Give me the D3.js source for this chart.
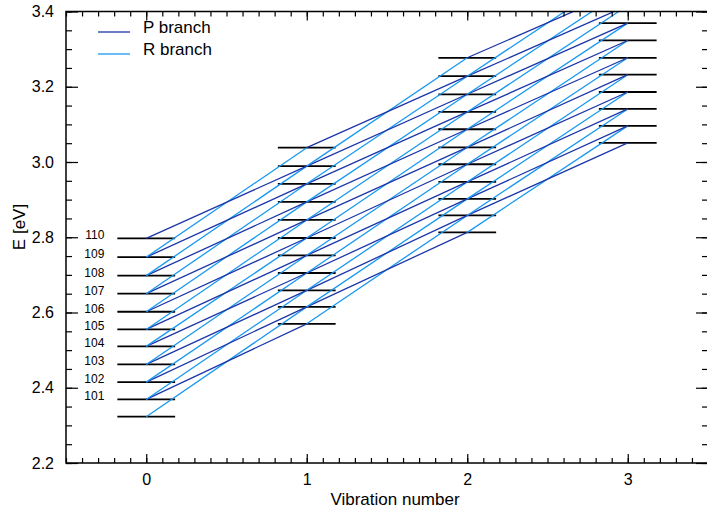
<!DOCTYPE html>
<html>
<head>
<meta charset="utf-8">
<script src="https://cdn.jsdelivr.net/npm/d3@7"></script>
<style>
  body { margin: 0; background: #fff; }
  text { font-family: "Liberation Sans", Arial, sans-serif; fill: #000; }
</style>
</head>
<body>
<svg id="chart" width="707" height="511"></svg>
<script>
// Rotational quantum numbers of the levels drawn in every vibrational state
const rotJ = [100, 101, 102, 103, 104, 105, 106, 107, 108, 109, 110];
// Level energies (eV) for J = 100..110, one array per vibration number
const levelsV0 = [2.323, 2.369, 2.415, 2.462, 2.510, 2.555, 2.602, 2.650, 2.698, 2.747, 2.797];
const levelsV1 = [2.570, 2.615, 2.659, 2.705, 2.752, 2.798, 2.846, 2.894, 2.942, 2.989, 3.038];
const levelsV2 = [2.813, 2.858, 2.902, 2.947, 2.994, 3.039, 3.087, 3.133, 3.180, 3.228, 3.277];
const levelsV3 = [3.051, 3.096, 3.141, 3.186, 3.232, 3.277, 3.323, 3.369, 3.416, 3.463, 3.511];
const vibrations = [0, 1, 2, 3];
const levelsByV = [levelsV0, levelsV1, levelsV2, levelsV3];
// J values written beside the v = 0 ladder
const labeledJ = [101, 102, 103, 104, 105, 106, 107, 108, 109, 110];
const xTickValues = [0, 1, 2, 3];
const yTickValues = [2.2, 2.4, 2.6, 2.8, 3.0, 3.2, 3.4];
const branchNames = ["P branch", "R branch"];
const branchShift = [-1, 1];   // ΔJ of the upper level
const branchColors = ["#1c36a8", "#1898f0"];

const svg = d3.select("#chart");
const plotLeft = 66, plotRight = 708, plotTop = 11.5, plotBottom = 463;

const x = d3.scaleLinear().domain([-0.5, 3.5]).range([plotLeft, plotRight]);
const y = d3.scaleLinear().domain([2.2, 3.4]).range([plotBottom, plotTop]);
const halfWidth = 0.18;

svg.append("defs").append("clipPath").attr("id", "plotClip")
  .append("rect").attr("x", plotLeft).attr("y", plotTop)
  .attr("width", plotRight - plotLeft).attr("height", plotBottom - plotTop);

const plot = svg.append("g").attr("clip-path", "url(#plotClip)");

// Energy levels as short horizontal bars
const levelData = [];
vibrations.forEach((v, vi) => {
  levelsByV[vi].forEach((e, i) => levelData.push({ v, J: rotJ[i], e }));
});
plot.append("g").selectAll("line").data(levelData).join("line")
  .attr("x1", d => x(d.v - halfWidth)).attr("x2", d => x(d.v + halfWidth))
  .attr("y1", d => y(d.e)).attr("y2", d => y(d.e))
  .attr("stroke", "#000").attr("stroke-width", 1.8);

// Transitions v -> v+1 with J -> J-1 (P) and J -> J+1 (R)
const transitions = [];
for (let vi = 0; vi < vibrations.length - 1; vi++) {
  rotJ.forEach((J, i) => {
    branchShift.forEach((s, b) => {
      const k = i + s;
      if (k < 0 || k >= rotJ.length) return;
      transitions.push({
        b,
        x1: vibrations[vi], e1: levelsByV[vi][i],
        x2: vibrations[vi + 1], e2: levelsByV[vi + 1][k]
      });
    });
  });
}
plot.append("g").selectAll("line").data(transitions).join("line")
  .attr("x1", d => x(d.x1)).attr("y1", d => y(d.e1))
  .attr("x2", d => x(d.x2)).attr("y2", d => y(d.e2))
  .attr("stroke", d => branchColors[d.b]).attr("stroke-width", 1.3);

// J labels next to the v = 0 levels
svg.append("g").selectAll("text").data(labeledJ).join("text")
  .attr("x", x(0 - halfWidth) - 13)
  .attr("y", J => y(levelsV0[rotJ.indexOf(J)]) + 1)
  .attr("text-anchor", "end")
  .attr("font-size", 12)
  .text(J => J);

// Axes: ticks pointing inward on all four sides
const yMinor = d3.range(2.2, 3.4001, 0.05);
const xMinor = d3.range(-0.5, 3.5001, 0.1);

function styleAxis(g) {
  g.select(".domain").remove();
  g.selectAll("line").attr("stroke", "#000").attr("stroke-width", 1.2);
  g.selectAll("text").attr("font-size", 16).attr("font-family", "Liberation Sans, Arial, sans-serif");
}

svg.append("g").attr("transform", `translate(${plotLeft},0)`)
  .call(d3.axisLeft(y).tickValues(yMinor).tickSizeInner(-6).tickSizeOuter(0).tickFormat(""))
  .call(styleAxis);
svg.append("g").attr("transform", `translate(${plotLeft},0)`)
  .call(d3.axisLeft(y).tickValues(yTickValues).tickSizeInner(-12).tickSizeOuter(0)
    .tickPadding(12).tickFormat(d3.format(".1f")))
  .call(styleAxis);

svg.append("g").attr("transform", `translate(${plotRight},0)`)
  .call(d3.axisRight(y).tickValues(yMinor).tickSizeInner(-6).tickSizeOuter(0).tickFormat(""))
  .call(styleAxis);
svg.append("g").attr("transform", `translate(${plotRight},0)`)
  .call(d3.axisRight(y).tickValues(yTickValues).tickSizeInner(-12).tickSizeOuter(0).tickFormat(""))
  .call(styleAxis);

svg.append("g").attr("transform", `translate(0,${plotBottom})`)
  .call(d3.axisBottom(x).tickValues(xMinor).tickSizeInner(-5).tickSizeOuter(0).tickFormat(""))
  .call(styleAxis);
svg.append("g").attr("transform", `translate(0,${plotBottom})`)
  .call(d3.axisBottom(x).tickValues(xTickValues).tickSizeInner(-9).tickSizeOuter(0)
    .tickPadding(11).tickFormat(d3.format("d")))
  .call(styleAxis);

svg.append("g").attr("transform", `translate(0,${plotTop})`)
  .call(d3.axisTop(x).tickValues(xMinor).tickSizeInner(-5).tickSizeOuter(0).tickFormat(""))
  .call(styleAxis);
svg.append("g").attr("transform", `translate(0,${plotTop})`)
  .call(d3.axisTop(x).tickValues(xTickValues).tickSizeInner(-9).tickSizeOuter(0).tickFormat(""))
  .call(styleAxis);

// Frame
svg.append("rect").attr("x", plotLeft).attr("y", plotTop)
  .attr("width", plotRight - plotLeft).attr("height", plotBottom - plotTop)
  .attr("fill", "none").attr("stroke", "#000").attr("stroke-width", 1.5);

// Axis titles
svg.append("text").attr("x", (plotLeft + plotRight) / 2 + 8).attr("y", 505)
  .attr("text-anchor", "middle").attr("font-size", 17).text("Vibration number");
svg.append("text").attr("transform", `translate(25,227) rotate(-90)`)
  .attr("text-anchor", "middle").attr("font-size", 17).text("E [eV]");

// Legend
const legend = svg.append("g").selectAll("g").data(branchNames).join("g")
  .attr("transform", (d, i) => `translate(98,${32 + i * 22})`);
legend.append("line").attr("x1", 0).attr("x2", 32).attr("y1", 0).attr("y2", 0)
  .attr("stroke", (d, i) => branchColors[i]).attr("stroke-width", 1.3);
legend.append("text").attr("x", 45).attr("y", 1).attr("font-size", 17).text(d => d);
</script>
</body>
</html>
